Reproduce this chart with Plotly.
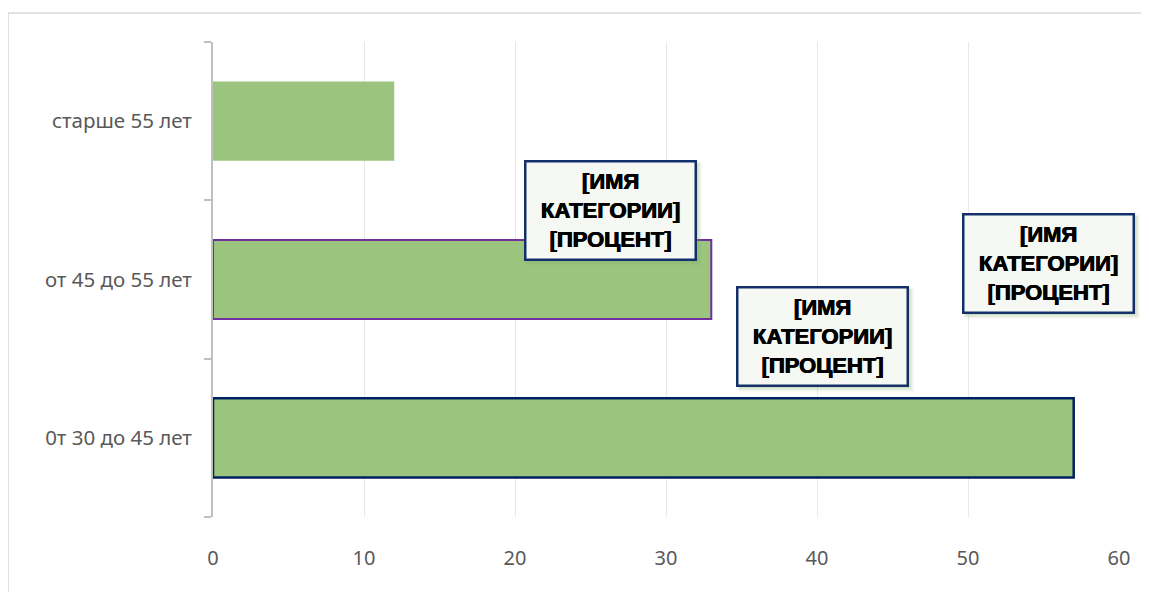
import plotly.graph_objects as go

categories = ["0т 30 до 45 лет", "от 45 до 55 лет", "старше 55 лет"]
values = [57, 33, 12]
x_ticks = [0, 10, 20, 30, 40, 50, 60]
label_text = "[ИМЯ<br>КАТЕГОРИИ]<br>[ПРОЦЕНТ]"

bar_fill = "#9BC47E"
bar_edges = ["#002060", "#7030A0", "#9BC47E"]
edge_widths = [2.5, 2, 0]

fig = go.Figure()
fig.add_trace(go.Bar(
    y=categories, x=values, orientation="h",
    marker=dict(color=bar_fill, line=dict(color=bar_edges, width=edge_widths)),
    width=0.5, hoverinfo="skip", showlegend=False,
))

OFF = 8  # page body margin
W, H = 1149, 592
L, R, T, B = 213 - OFF, W - (1119 - OFF), 42 - OFF, H - (517 - OFF)
pw, ph = W - L - R, H - T - B

def px_to_paper(px, py):
    # px, py are screenshot pixel positions
    return (px - OFF - L) / pw, (H - B - (py - OFF)) / ph

# label boxes: centers in screenshot pixels, size
boxes = [(610, 210), (822, 336), (1048, 263)]
bw, bh = 171, 99
shapes = []
annotations = []
for cx, cy in boxes:
    for k, op in [(6, 0.12), (4, 0.18), (2, 0.25)]:
        x0, y0 = px_to_paper(cx - bw / 2 + 2, cy + bh / 2 + k)
        x1, y1 = px_to_paper(cx + bw / 2 + k, cy - bh / 2 + 2)
        shapes.append(dict(type="rect", xref="paper", yref="paper", x0=x0, y0=y0, x1=x1, y1=y1,
                           line=dict(width=0), fillcolor=f"rgba(130,170,100,{op})", layer="above"))
    ax, ay = px_to_paper(cx, cy)
    annotations.append(dict(
        xref="paper", yref="paper", x=ax, y=ay, xanchor="center", yanchor="middle",
        text=label_text, showarrow=False, align="center",
        font=dict(family="Liberation Sans, Arial", size=22, color="#000000", weight="bold",
                  shadow="0.6px 0 0 #000000, -0.3px 0 0 #000000"),
        bgcolor="#F6F8F4", bordercolor="#14306A", borderwidth=2.5, borderpad=3,
        width=bw - 9, height=bh - 9,
    ))

# outer frame (partially cropped)
fx0, fy0 = px_to_paper(8, 13)
fx1, fy1 = px_to_paper(1170, 620)
shapes.append(dict(type="rect", xref="paper", yref="paper", x0=fx0, y0=fy1, x1=fx1, y1=fy0,
                   line=dict(color="#D9D9D9", width=1.5), fillcolor="rgba(0,0,0,0)", layer="below"))

fig.update_layout(
    width=W, height=H,
    margin=dict(l=L, r=R, t=T, b=B, pad=0),
    paper_bgcolor="white", plot_bgcolor="white",
    font=dict(family="Noto Sans, Open Sans, sans-serif", size=20, color="#595959"),
    shapes=shapes, annotations=annotations,
    xaxis=dict(range=[0, 60], tickvals=x_ticks, showgrid=True, gridcolor="#E8E8E8", gridwidth=1,
               zeroline=False, showline=False, ticks="", ticklabelstandoff=27,
               tickfont=dict(size=20, color="#595959"), fixedrange=True),
    yaxis=dict(categoryorder="array", categoryarray=categories, showline=True, linecolor="#C0C0C0",
               linewidth=2, ticks="outside", tickson="boundaries", ticklen=7, tickcolor="#C0C0C0",
               tickwidth=2, showgrid=False, zeroline=False, ticklabelstandoff=15,
               tickfont=dict(size=20.5, color="#595959"), range=[-0.5, 2.5]),
)

fig.write_html("out.html")
